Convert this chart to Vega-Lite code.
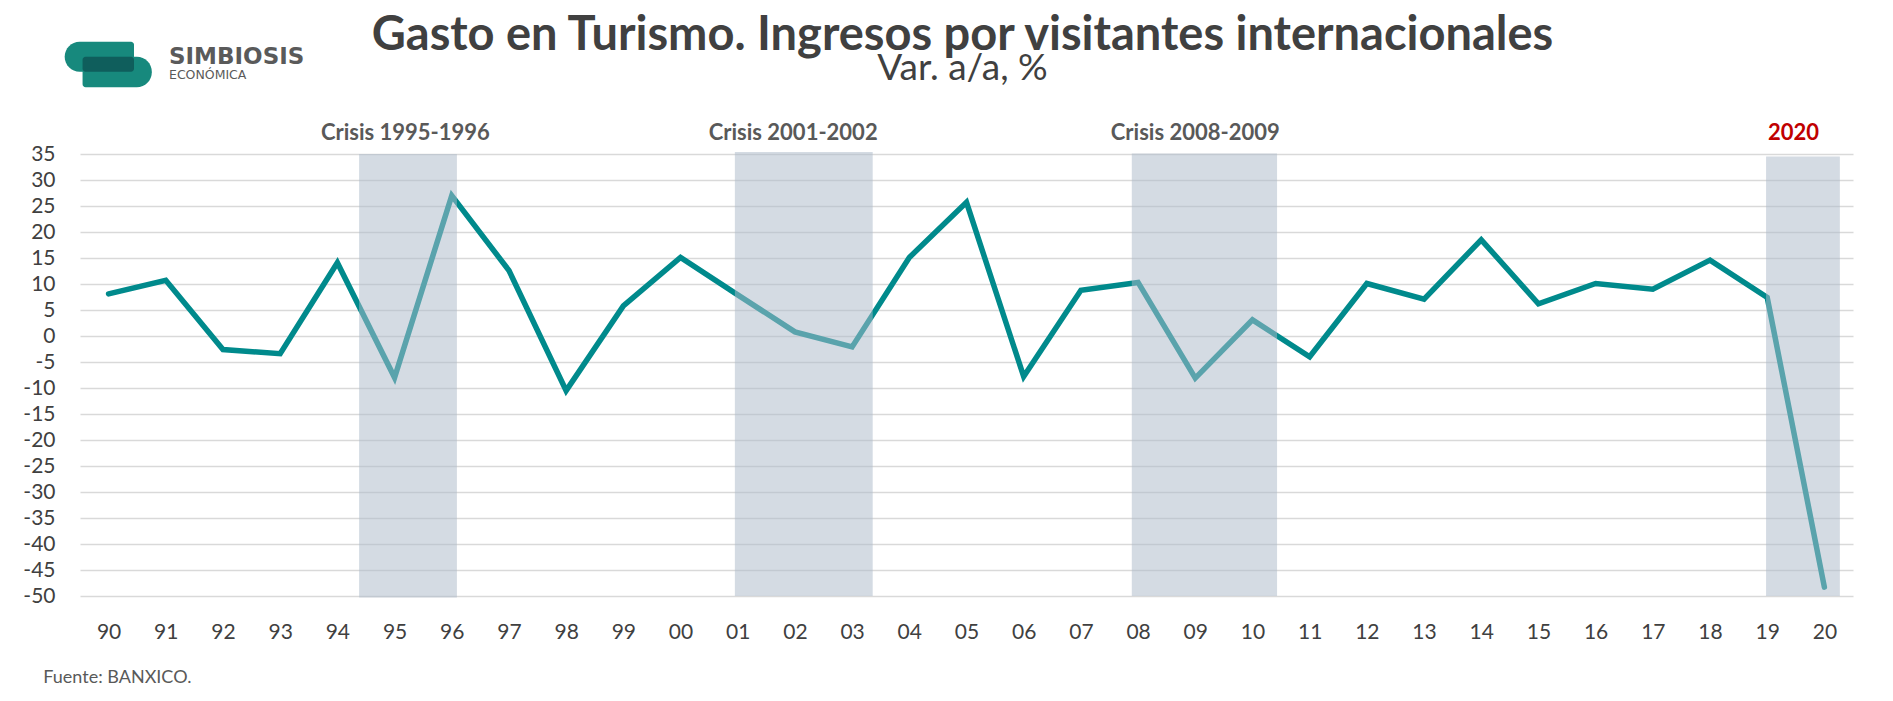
{
  "$schema": "https://vega.github.io/schema/vega-lite/v6.json",
  "width": 1773,
  "height": 442,
  "autosize": {"type": "none"},
  "padding": {"left": 80, "top": 154, "right": 40, "bottom": 105},
  "background": "white",
  "config": {
    "view": {"stroke": null},
    "font": "Lato",
    "axisX": {
      "grid": false, "ticks": false, "domain": false,
      "labelFont": "Lato", "labelFontSize": 21, "labelColor": "#404040",
      "labelPadding": 25, "labelFlush": false, "labelOverlap": false
    },
    "axisY": {
      "grid": true, "gridColor": "#D9D9D9", "gridWidth": 1.5,
      "ticks": false, "domain": false,
      "labelFont": "Lato", "labelFontSize": 21, "labelColor": "#404040",
      "labelPadding": 25, "labelOverlap": false, "labelFlush": false
    }
  },
  "title": {
    "text": "Gasto en Turismo. Ingresos por visitantes internacionales",
    "subtitle": "Var. a/a, %",
    "anchor": "middle",
    "frame": "group",
    "font": "Lato",
    "fontSize": 47,
    "fontWeight": "bold",
    "color": "#404040",
    "subtitleFont": "Lato",
    "subtitleFontSize": 37,
    "subtitleColor": "#404040",
    "subtitlePadding": -9,
    "offset": -46,
    "dx": -4
  },
  "datasets": {
    "series": [
      {"year": 1990, "v": 8.1}, {"year": 1991, "v": 10.7}, {"year": 1992, "v": -2.6},
      {"year": 1993, "v": -3.4}, {"year": 1994, "v": 14.1}, {"year": 1995, "v": -8.0},
      {"year": 1996, "v": 27.0}, {"year": 1997, "v": 12.6}, {"year": 1998, "v": -10.5},
      {"year": 1999, "v": 5.8}, {"year": 2000, "v": 15.1}, {"year": 2001, "v": 7.9},
      {"year": 2002, "v": 0.8}, {"year": 2003, "v": -2.1}, {"year": 2004, "v": 15.1},
      {"year": 2005, "v": 25.7}, {"year": 2006, "v": -7.8}, {"year": 2007, "v": 8.8},
      {"year": 2008, "v": 10.3}, {"year": 2009, "v": -8.1}, {"year": 2010, "v": 3.1},
      {"year": 2011, "v": -4.0}, {"year": 2012, "v": 10.1}, {"year": 2013, "v": 7.1},
      {"year": 2014, "v": 18.5}, {"year": 2015, "v": 6.2}, {"year": 2016, "v": 10.1},
      {"year": 2017, "v": 9.0}, {"year": 2018, "v": 14.6}, {"year": 2019, "v": 7.4},
      {"year": 2020, "v": -48.3}
    ],
    "crisis": [
      {"start": 1994.38, "end": 1996.09, "top": 35, "bottom": -50.3, "label": "Crisis 1995-1996", "labelAt": 1995.19},
      {"start": 2000.95, "end": 2003.36, "top": 35.4, "bottom": -50, "label": "Crisis 2001-2002", "labelAt": 2001.97},
      {"start": 2007.89, "end": 2010.43, "top": 35.1, "bottom": -50, "label": "Crisis 2008-2009", "labelAt": 2009.0},
      {"start": 2018.98, "end": 2020.27, "top": 34.5, "bottom": -50, "label": "2020", "labelAt": 2019.46}
    ]
  },
  "data": {"name": "series"},
  "layer": [
    {
      "mark": {"type": "line", "color": "#008A8C", "strokeWidth": 5.5, "strokeCap": "round", "strokeJoin": "miter"},
      "encoding": {
        "x": {
          "field": "year", "type": "quantitative",
          "scale": {"domain": [1989.5, 2020.5], "nice": false, "zero": false},
          "axis": {"title": null, "values": [1990,1991,1992,1993,1994,1995,1996,1997,1998,1999,2000,2001,2002,2003,2004,2005,2006,2007,2008,2009,2010,2011,2012,2013,2014,2015,2016,2017,2018,2019,2020], "labelExpr": "slice(toString(datum.value), 2)"}
        },
        "y": {
          "field": "v", "type": "quantitative",
          "scale": {"domain": [-50, 35], "nice": false, "zero": false},
          "axis": {"title": null, "values": [-50,-45,-40,-35,-30,-25,-20,-15,-10,-5,0,5,10,15,20,25,30,35], "labelExpr": "toString(datum.value)"}
        }
      }
    },
    {
      "data": {"name": "crisis"},
      "mark": {"type": "rect", "fill": "#ADBACA", "opacity": 0.52},
      "encoding": {
        "x": {"field": "start", "type": "quantitative", "axis": {"title": null, "values": [1990,1991,1992,1993,1994,1995,1996,1997,1998,1999,2000,2001,2002,2003,2004,2005,2006,2007,2008,2009,2010,2011,2012,2013,2014,2015,2016,2017,2018,2019,2020], "labelExpr": "slice(toString(datum.value), 2)"}},
        "x2": {"field": "end"},
        "y": {"field": "top", "type": "quantitative", "axis": {"title": null, "values": [-50,-45,-40,-35,-30,-25,-20,-15,-10,-5,0,5,10,15,20,25,30,35], "labelExpr": "toString(datum.value)"}},
        "y2": {"field": "bottom"}
      }
    },
    {
      "data": {"name": "crisis"},
      "mark": {"type": "text", "font": "Lato", "fontWeight": "bold", "fontSize": 22, "align": "center", "baseline": "alphabetic"},
      "encoding": {
        "x": {"field": "labelAt", "type": "quantitative", "axis": {"title": null, "values": [1990,1991,1992,1993,1994,1995,1996,1997,1998,1999,2000,2001,2002,2003,2004,2005,2006,2007,2008,2009,2010,2011,2012,2013,2014,2015,2016,2017,2018,2019,2020], "labelExpr": "slice(toString(datum.value), 2)"}},
        "y": {"datum": 37.7, "type": "quantitative", "axis": {"title": null, "values": [-50,-45,-40,-35,-30,-25,-20,-15,-10,-5,0,5,10,15,20,25,30,35], "labelExpr": "toString(datum.value)"}},
        "text": {"field": "label"},
        "color": {"condition": {"test": "datum.label === '2020'", "value": "#C00000"}, "value": "#595959"}
      }
    },
    {
      "data": {"values": [{}]},
      "mark": {"type": "rect", "fill": "#17897D", "cornerRadiusTopLeft": 15, "cornerRadiusBottomLeft": 15, "cornerRadiusTopRight": 3, "cornerRadiusBottomRight": 3},
      "encoding": {
        "x": {"datum": 1989.232, "type": "quantitative", "axis": {"title": null, "values": [1990,1991,1992,1993,1994,1995,1996,1997,1998,1999,2000,2001,2002,2003,2004,2005,2006,2007,2008,2009,2010,2011,2012,2013,2014,2015,2016,2017,2018,2019,2020], "labelExpr": "slice(toString(datum.value), 2)"}},
        "x2": {"datum": 1990.444},
        "y": {"datum": 56.6, "type": "quantitative", "axis": {"title": null, "values": [-50,-45,-40,-35,-30,-25,-20,-15,-10,-5,0,5,10,15,20,25,30,35], "labelExpr": "toString(datum.value)"}},
        "y2": {"datum": 50.83}
      }
    },
    {
      "data": {"values": [{}]},
      "mark": {"type": "rect", "fill": "#17897D", "cornerRadiusTopRight": 15, "cornerRadiusBottomRight": 15, "cornerRadiusTopLeft": 3, "cornerRadiusBottomLeft": 3},
      "encoding": {
        "x": {"datum": 1989.545, "type": "quantitative", "axis": {"title": null, "values": [1990,1991,1992,1993,1994,1995,1996,1997,1998,1999,2000,2001,2002,2003,2004,2005,2006,2007,2008,2009,2010,2011,2012,2013,2014,2015,2016,2017,2018,2019,2020], "labelExpr": "slice(toString(datum.value), 2)"}},
        "x2": {"datum": 1990.756},
        "y": {"datum": 53.71, "type": "quantitative", "axis": {"title": null, "values": [-50,-45,-40,-35,-30,-25,-20,-15,-10,-5,0,5,10,15,20,25,30,35], "labelExpr": "toString(datum.value)"}},
        "y2": {"datum": 47.83}
      }
    },
    {
      "data": {"values": [{}]},
      "mark": {"type": "rect", "fill": "#0F5E5C", "cornerRadius": 3},
      "encoding": {
        "x": {"datum": 1989.545, "type": "quantitative", "axis": {"title": null, "values": [1990,1991,1992,1993,1994,1995,1996,1997,1998,1999,2000,2001,2002,2003,2004,2005,2006,2007,2008,2009,2010,2011,2012,2013,2014,2015,2016,2017,2018,2019,2020], "labelExpr": "slice(toString(datum.value), 2)"}},
        "x2": {"datum": 1990.444},
        "y": {"datum": 53.71, "type": "quantitative", "axis": {"title": null, "values": [-50,-45,-40,-35,-30,-25,-20,-15,-10,-5,0,5,10,15,20,25,30,35], "labelExpr": "toString(datum.value)"}},
        "y2": {"datum": 50.83}
      }
    },
    {
      "data": {"values": [{"t": "SIMBIOSIS"}]},
      "mark": {"type": "text", "font": "DejaVu Sans", "fontWeight": "bold", "fontSize": 23, "align": "left", "baseline": "alphabetic", "color": "#5A5A5A"},
      "encoding": {
        "x": {"datum": 1991.056, "type": "quantitative", "axis": {"title": null, "values": [1990,1991,1992,1993,1994,1995,1996,1997,1998,1999,2000,2001,2002,2003,2004,2005,2006,2007,2008,2009,2010,2011,2012,2013,2014,2015,2016,2017,2018,2019,2020], "labelExpr": "slice(toString(datum.value), 2)"}},
        "y": {"datum": 52.3, "type": "quantitative", "axis": {"title": null, "values": [-50,-45,-40,-35,-30,-25,-20,-15,-10,-5,0,5,10,15,20,25,30,35], "labelExpr": "toString(datum.value)"}},
        "text": {"field": "t"}
      }
    },
    {
      "data": {"values": [{"t": "ECONÓMICA"}]},
      "mark": {"type": "text", "font": "DejaVu Sans", "fontSize": 12.5, "align": "left", "baseline": "alphabetic", "color": "#5A5A5A"},
      "encoding": {
        "x": {"datum": 1991.056, "type": "quantitative", "axis": {"title": null, "values": [1990,1991,1992,1993,1994,1995,1996,1997,1998,1999,2000,2001,2002,2003,2004,2005,2006,2007,2008,2009,2010,2011,2012,2013,2014,2015,2016,2017,2018,2019,2020], "labelExpr": "slice(toString(datum.value), 2)"}},
        "y": {"datum": 49.37, "type": "quantitative", "axis": {"title": null, "values": [-50,-45,-40,-35,-30,-25,-20,-15,-10,-5,0,5,10,15,20,25,30,35], "labelExpr": "toString(datum.value)"}},
        "text": {"field": "t"}
      }
    },
    {
      "data": {"values": [{"t": "Fuente: BANXICO."}]},
      "mark": {"type": "text", "font": "Lato", "fontSize": 18, "align": "left", "baseline": "alphabetic", "color": "#595959"},
      "encoding": {
        "x": {"datum": 1988.858, "type": "quantitative", "axis": {"title": null, "values": [1990,1991,1992,1993,1994,1995,1996,1997,1998,1999,2000,2001,2002,2003,2004,2005,2006,2007,2008,2009,2010,2011,2012,2013,2014,2015,2016,2017,2018,2019,2020], "labelExpr": "slice(toString(datum.value), 2)"}},
        "y": {"datum": -66.79, "type": "quantitative", "axis": {"title": null, "values": [-50,-45,-40,-35,-30,-25,-20,-15,-10,-5,0,5,10,15,20,25,30,35], "labelExpr": "toString(datum.value)"}},
        "text": {"field": "t"}
      }
    }
  ]
}
